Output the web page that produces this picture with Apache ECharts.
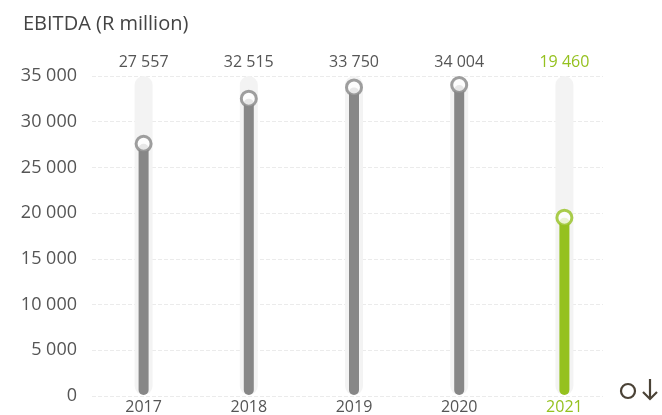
<!DOCTYPE html>
<html>
<head>
<meta charset="utf-8">
<script src="https://cdn.jsdelivr.net/npm/echarts@6/dist/echarts.min.js"></script>
<style>
  html, body { margin: 0; padding: 0; background: #fff; }
  #main { width: 662px; height: 415px; }
</style>
</head>
<body>
<div id="main"></div>
<script>
    var years = ['2017', '2018', '2019', '2020', '2021'];
    var ebitda = [27557, 32515, 33750, 34004, 19460];
    var yTicks = [0, 5000, 10000, 15000, 20000, 25000, 30000, 35000];

    var GREY = '#878787';
    var GREEN = '#95c11f';
    var TXT = '#555555';
    var FONT = 'Open Sans';
    var yMax = yTicks[yTicks.length - 1];

    // 千位空格
    function fmt(v) {
        return String(v).replace(/\B(?=(\d{3})+(?!\d))/g, ' ');
    }
    function isLast(i) {
        return i === years.length - 1;
    }
    function labelColor(v) {
        return v === years[years.length - 1] ? GREEN : TXT;
    }

    var trackData = [];
    var barData = [];
    var dotData = [];
    for (var i = 0; i < years.length; i++) {
        trackData.push(yMax);
        barData.push({ value: ebitda[i], itemStyle: { color: isLast(i) ? GREEN : GREY } });
        dotData.push({ value: ebitda[i], itemStyle: { borderColor: isLast(i) ? GREEN : GREY } });
    }

    var myChart = echarts.init(document.getElementById('main'));
    myChart.setOption({
        backgroundColor: '#fff',
        animation: false,
        title: {
            text: 'EBITDA (R million)',
            left: 18,
            top: 9,
            textStyle: { fontFamily: FONT, fontSize: 20, fontWeight: 'normal', color: '#444' }
        },
        grid: [
            { left: 92, right: 59, top: 76, bottom: 19 },
            { left: 91, right: 45, top: 76, bottom: 19 }
        ],
        xAxis: [{
            type: 'category', gridIndex: 0, data: years, show: false
        }, {
            type: 'category', gridIndex: 1, data: years,
            axisLine: { show: false }, axisTick: { show: false },
            axisLabel: { margin: 4, fontFamily: FONT, fontSize: 16, color: labelColor }
        }, {
            type: 'category', gridIndex: 1, position: 'top', data: years,
            axisLine: { show: false }, axisTick: { show: false },
            axisLabel: {
                margin: 6, fontFamily: FONT, fontSize: 16, color: labelColor,
                formatter: function (v) { return fmt(ebitda[years.indexOf(v)]); }
            }
        }, {
            type: 'category', gridIndex: 1, data: years, show: false
        }],
        yAxis: [{
            type: 'value', gridIndex: 0, min: 0, max: yMax, interval: 5000,
            axisLine: { show: false }, axisTick: { show: false },
            axisLabel: {
                margin: 15, fontFamily: FONT, fontSize: 18, color: TXT,
                formatter: function (v) { return fmt(v); }
            },
            splitLine: { lineStyle: { color: '#ebebeb', type: [4, 2], width: 1 } }
        }, {
            type: 'value', gridIndex: 1, min: 0, max: yMax, show: false
        }],
        series: [{
            type: 'bar', xAxisIndex: 3, yAxisIndex: 1,
            data: trackData, barWidth: 18,
            itemStyle: { color: '#f3f3f3', borderRadius: 9 },
            silent: true, z: 1
        }, {
            type: 'bar', xAxisIndex: 1, yAxisIndex: 1,
            data: barData, barWidth: 10,
            itemStyle: { borderRadius: 5 }, z: 2
        }, {
            type: 'scatter', xAxisIndex: 1, yAxisIndex: 1,
            data: dotData, symbol: 'circle', symbolSize: 15, z: 5,
            itemStyle: { color: '#fff', borderWidth: 3 }
        }],
        graphic: [{
            type: 'circle',
            shape: { cx: 628, cy: 391, r: 7 },
            style: { fill: 'none', stroke: '#4a4236', lineWidth: 2.2 }
        }, {
            type: 'polyline',
            shape: { points: [[650, 379], [650, 399]] },
            style: { stroke: '#4a4236', lineWidth: 2.2, fill: 'none' }
        }, {
            type: 'polyline',
            shape: { points: [[643, 392], [650, 399], [657, 392]] },
            style: { stroke: '#4a4236', lineWidth: 2.2, fill: 'none' }
        }]
    });
</script>
</body>
</html>
